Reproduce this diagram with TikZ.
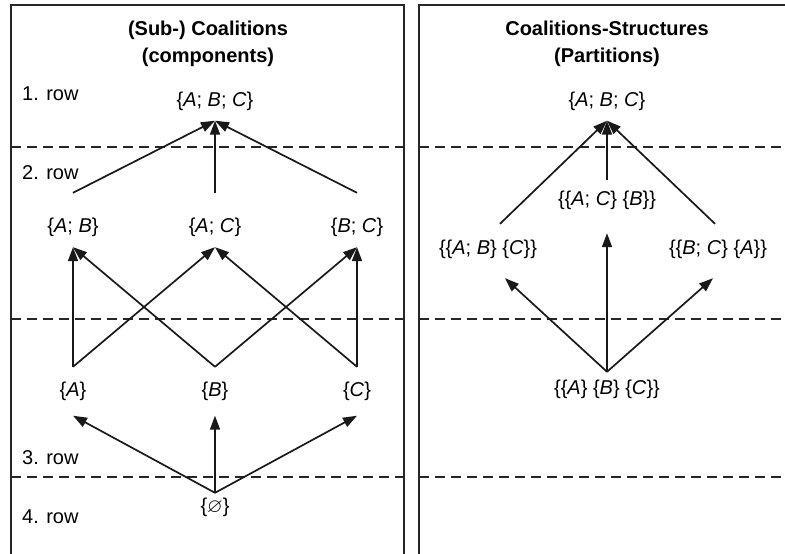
\documentclass[tikz,border=0pt]{standalone}
\usepackage{amssymb}
\usepackage{fontspec}
\setmainfont{Liberation Sans}
\usepackage{tikz}
\usetikzlibrary{arrows.meta, positioning}
\tikzset{
  panelframe/.style={line width=2pt, color=black!85},
  rowline/.style={dashed, dash pattern=on 10pt off 6pt, line width=1.4pt, color=black!85},
  paneltitle/.style={
    align=center, font=\fontsize{20}{27}\selectfont\bfseries, inner sep=0pt
  },
  rowlabel/.style={
    anchor=west, font=\fontsize{20}{24}\selectfont, inner sep=0pt
  },
  setnode/.style={
    inner sep=0pt, text height=13pt, text depth=4pt,
    font=\fontsize{20}{24}\selectfont
  },
  linkarrow/.style={
    -{Triangle[length=14pt,width=10pt]}, line width=1.7pt, color=black!90
  },
}
\newcommand{\iA}{\textit{A}}
\newcommand{\iB}{\textit{B}}
\newcommand{\iC}{\textit{C}}

\begin{document}
\begin{tikzpicture}[x=1pt, y=-1pt]
  \useasboundingbox (0,0) rectangle (785,554);

  % panel frames
  \draw[panelframe] (11,554) -- (11,5) -- (404,5) -- (404,554);
  \draw[panelframe] (419,554) -- (419,5) -- (785,5);

  % row separators
  \foreach \y in {147,319,477} {
    \draw[rowline] (11,\y) -- (404,\y);
    \draw[rowline] (419,\y) -- (785,\y);
  }

  % titles
  \node[paneltitle] (titleleft) at (208,44) {(Sub-) Coalitions\\(components)};
  \node[paneltitle] (titleright) at (607,44) {Coalitions-Structures\\(Partitions)};

  % row labels
  \node[rowlabel] (row1) at (22,94) {1. row};
  \node[rowlabel] (row2) at (22,173) {2. row};
  \node[rowlabel] (row3) at (22,458) {3. row};
  \node[rowlabel] (row4) at (22,517) {4. row};

  % left panel: coalitions
  \node[setnode] (abc) at (215,102) {\{\iA; \iB; \iC\}};
  \node[setnode] (ab) at (73,228) {\{\iA; \iB\}};
  \node[setnode] (ac) at (215,228) {\{\iA; \iC\}};
  \node[setnode] (bc) at (357,228) {\{\iB; \iC\}};
  \node[setnode] (a) at (73,392) {\{\iA\}};
  \node[setnode] (b) at (215,392) {\{\iB\}};
  \node[setnode] (c) at (357,392) {\{\iC\}};
  \node[setnode] (empty) at (215,508) {\{$\varnothing$\}};

  \foreach \n in {ab,ac,bc}
    \draw[linkarrow] ([yshift=26.5pt]\n.north) -- ([yshift=-10pt]abc.south);

  \draw[linkarrow] ([yshift=16.5pt]a.north) -- ([yshift=-10.5pt]ab.south);
  \draw[linkarrow] ([yshift=16.5pt]a.north) -- ([yshift=-10.5pt]ac.south);
  \draw[linkarrow] ([yshift=16.5pt]b.north) -- ([yshift=-10.5pt]ab.south);
  \draw[linkarrow] ([yshift=16.5pt]b.north) -- ([yshift=-10.5pt]bc.south);
  \draw[linkarrow] ([yshift=16.5pt]c.north) -- ([yshift=-10.5pt]ac.south);
  \draw[linkarrow] ([yshift=16.5pt]c.north) -- ([yshift=-10.5pt]bc.south);

  \foreach \n in {a,b,c}
    \draw[linkarrow] ([yshift=6.5pt]empty.north) -- ([yshift=-15pt]\n.south);

  % right panel: partitions
  \node[setnode] (pabc) at (607,102) {\{\iA; \iB; \iC\}};
  \node[setnode] (pabc1) at (488,250) {\{\{\iA; \iB\} \{\iC\}\}};
  \node[setnode] (pacb) at (607,201) {\{\{\iA; \iC\} \{\iB\}\}};
  \node[setnode] (pbca) at (718,250) {\{\{\iB; \iC\} \{\iA\}\}};
  \node[setnode] (psingle) at (607,390) {\{\{\iA\} \{\iB\} \{\iC\}\}};

  \draw[linkarrow] ([xshift=12pt,yshift=17.5pt]pabc1.north) -- ([yshift=-10pt]pabc.south);
  \draw[linkarrow] ([yshift=12.5pt]pacb.north) -- ([yshift=-10pt]pabc.south);
  \draw[linkarrow] ([xshift=-3pt,yshift=17.5pt]pbca.north) -- ([yshift=-10pt]pabc.south);

  \draw[linkarrow] ([yshift=9.5pt]psingle.north) -- ([xshift=17pt,yshift=-19.5pt]pabc1.south);
  \draw[linkarrow] ([yshift=9.5pt]psingle.north) -- ([yshift=-23.5pt]pacb.south);
  \draw[linkarrow] ([yshift=9.5pt]psingle.north) -- ([xshift=-5pt,yshift=-19.5pt]pbca.south);
\end{tikzpicture}
\end{document}
